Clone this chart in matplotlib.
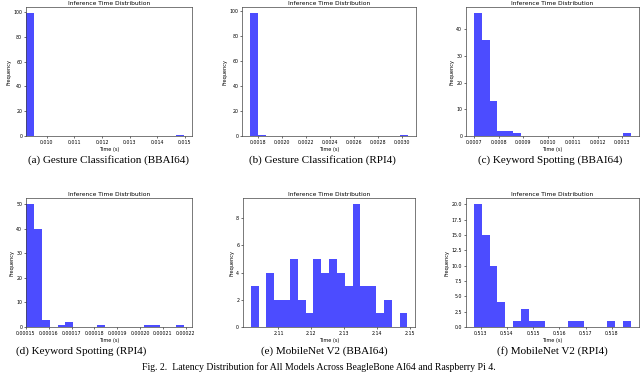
import numpy as np
import matplotlib
matplotlib.use("Agg")
import matplotlib.pyplot as plt
from matplotlib.ticker import FormatStrFormatter

# histogram counts (20 bins each), with bin range (s)
gesture_bbai_range = (0.00925, 0.01497)
gesture_bbai_counts = [99, 0, 0, 0, 0, 0, 0, 0, 0, 0, 0, 0, 0, 0, 0, 0, 0, 0, 0, 1]

gesture_rpi_range = (0.001736, 0.003055)
gesture_rpi_counts = [98, 1, 0, 0, 0, 0, 0, 0, 0, 0, 0, 0, 0, 0, 0, 0, 0, 0, 0, 1]

keyword_bbai_range = (0.000700, 0.001334)
keyword_bbai_counts = [46, 36, 13, 2, 2, 1, 0, 0, 0, 0, 0, 0, 0, 0, 0, 0, 0, 0, 0, 1]

keyword_rpi_range = (0.000150, 0.0002192)
keyword_rpi_counts = [50, 40, 3, 0, 1, 2, 0, 0, 0, 1, 0, 0, 0, 0, 0, 1, 1, 0, 0, 1]

mobilenet_bbai_range = (2.1016, 2.1492)
mobilenet_bbai_counts = [3, 0, 4, 2, 2, 5, 2, 1, 5, 4, 5, 4, 3, 9, 3, 3, 1, 2, 0, 1]

mobilenet_rpi_range = (0.512746, 0.518718)
mobilenet_rpi_counts = [20, 15, 10, 4, 0, 1, 3, 1, 1, 0, 0, 0, 1, 1, 0, 0, 0, 1, 0, 1]

# tick labels
gesture_bbai_xticks = [0.010, 0.011, 0.012, 0.013, 0.014, 0.015]
gesture_rpi_xticks = [0.0018, 0.0020, 0.0022, 0.0024, 0.0026, 0.0028, 0.0030]
keyword_bbai_xticks = [0.0007, 0.0008, 0.0009, 0.0010, 0.0011, 0.0012, 0.0013]
keyword_rpi_xticks = [0.00015, 0.00016, 0.00017, 0.00018, 0.00019, 0.00020, 0.00021, 0.00022]
mobilenet_bbai_xticks = [2.11, 2.12, 2.13, 2.14, 2.15]
mobilenet_rpi_xticks = [0.513, 0.514, 0.515, 0.516, 0.517, 0.518]

captions = ["(a) Gesture Classification (BBAI64)",
            "(b) Gesture Classification (RPI4)",
            "(c) Keyword Spotting (BBAI64)",
            "(d) Keyword Spotting (RPI4)",
            "(e) MobileNet V2 (BBAI64)",
            "(f) MobileNet V2 (RPI4)"]
fig_caption = "Fig. 2.  Latency Distribution for All Models Across BeagleBone AI64 and Raspberry Pi 4."

W, H = 640, 378
fig = plt.figure(figsize=(6.4, 3.78), dpi=100)


def px_axes(left, right, top, bottom):
    return fig.add_axes([left / W, 1 - bottom / H, (right - left) / W, (bottom - top) / H])


################################################################################
# panels
################################################################################
panels = [
    (gesture_bbai_range, gesture_bbai_counts, gesture_bbai_xticks, '%.3f', (26, 192, 7.3, 136), True),
    (gesture_rpi_range, gesture_rpi_counts, gesture_rpi_xticks, '%.4f', (242.3, 416.3, 7.3, 136), False),
    (keyword_bbai_range, keyword_bbai_counts, keyword_bbai_xticks, '%.4f', (466, 638.7, 7.3, 136), False),
    (keyword_rpi_range, keyword_rpi_counts, keyword_rpi_xticks, '%.5f', (26, 191.7, 198.3, 327), True),
    (mobilenet_bbai_range, mobilenet_bbai_counts, mobilenet_bbai_xticks, '%.2f', (243, 415.3, 198.3, 327), False),
    (mobilenet_rpi_range, mobilenet_rpi_counts, mobilenet_rpi_xticks, '%.3f', (466, 638.7, 198.3, 327), False),
]

for rng, counts, xticks, fmt, box, flush_left in panels:
    ax = px_axes(*box)
    edges = np.linspace(rng[0], rng[1], len(counts) + 1)
    centers = (edges[:-1] + edges[1:]) / 2
    ax.hist(centers, bins=edges, weights=counts, color='blue', alpha=0.7)
    if flush_left:
        ax.set_xlim(left=rng[0])
    ax.set_xticks(xticks)
    ax.xaxis.set_major_formatter(FormatStrFormatter(fmt))
    ax.set_title("Inference Time Distribution", fontsize=4.3, pad=1.5)
    ax.set_xlabel("Time (s)", fontsize=3.6, labelpad=1.5)
    ax.set_ylabel("Frequency", fontsize=3.6, labelpad=1.5)
    ax.tick_params(labelsize=3.4, length=1.5, width=0.4, pad=1.2)
    for s in ax.spines.values():
        s.set_linewidth(0.5)
        s.set_color('#444444')

# y ticks per panel
axes = fig.axes
axes[0].set_yticks([0, 20, 40, 60, 80, 100])
axes[1].set_yticks([0, 20, 40, 60, 80, 100])
axes[2].set_yticks([0, 10, 20, 30, 40])
axes[3].set_yticks([0, 10, 20, 30, 40, 50])
axes[4].set_yticks([0, 2, 4, 6, 8])
axes[5].set_yticks([0, 2.5, 5, 7.5, 10, 12.5, 15, 17.5, 20])
axes[5].yaxis.set_major_formatter(FormatStrFormatter('%.1f'))

################################################################################
# captions
################################################################################
cap_x = [109, 322, 550, 81, 324, 552]
cap_y = [160, 160, 160, 351, 351, 351]
for txt, x, y in zip(captions, cap_x, cap_y):
    fig.text(x / W, 1 - y / H, txt, ha='center', va='center',
             family='Liberation Serif', fontsize=8)
fig.text(319 / W, 1 - 367 / H, fig_caption, ha='center', va='center',
         family='Liberation Serif', fontsize=7)

fig.savefig("out.png", dpi=100)
